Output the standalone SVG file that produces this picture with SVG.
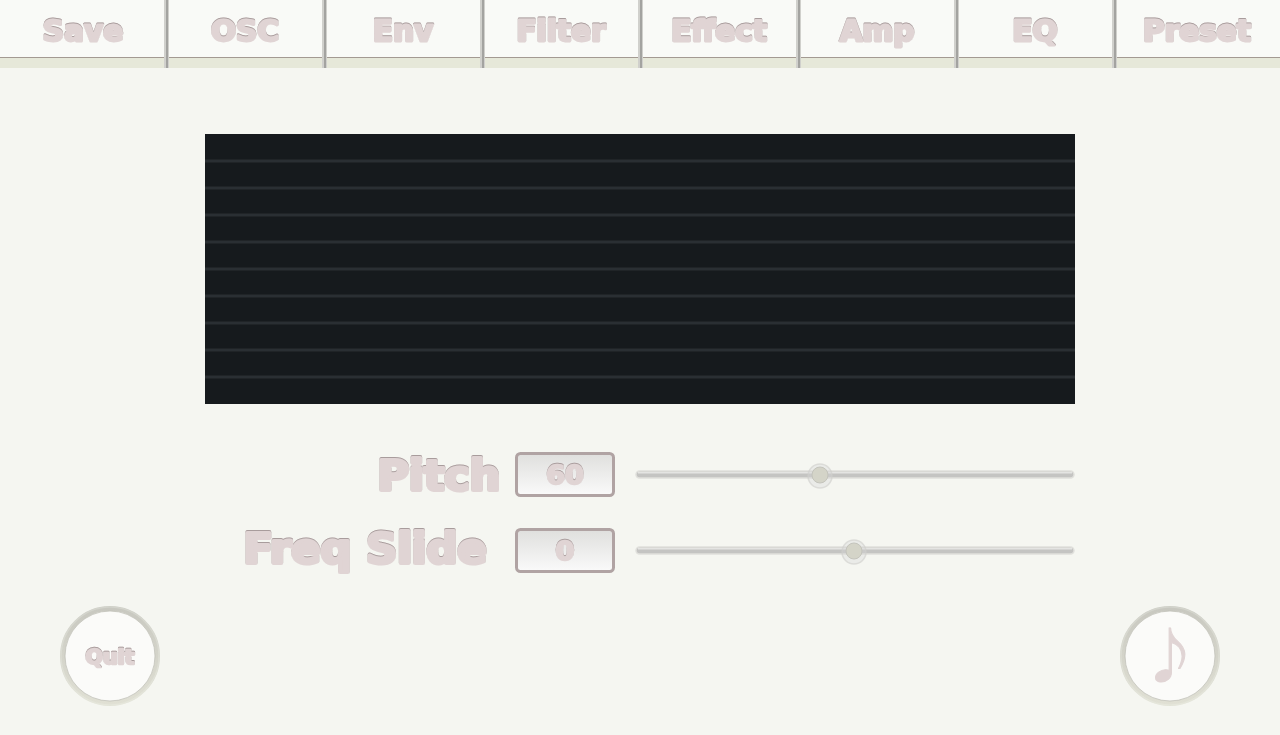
<svg xmlns="http://www.w3.org/2000/svg" width="1280" height="735" viewBox="0 0 1280 735">
<style>
text{font-family:"DejaVu Sans",sans-serif;font-weight:700;fill:#e0d4d4;stroke:#e0d4d4;stroke-linejoin:round;text-anchor:middle;filter:url(#emb)}
.tab{font-size:29.500px;stroke-width:2.800px}
.lab{font-size:43px;stroke-width:4px}
.val{font-size:27px;stroke-width:2.500px}
.sep{fill:#a3a3a0}
.sepl{fill:#d0d0cc}
.box{fill:url(#boxg);stroke:#b0a3a3;stroke-width:3}
.trk{fill:#c4c4c2;stroke:#e0e0dc;stroke-width:1.500}
.trkl{fill:#e4e4e2}
.grid{stroke:#2a2f33;stroke-width:3}
.ring{fill:#fbfbf9;stroke:url(#ringg);stroke-width:5}
.rim{fill:none;stroke:#c0c0b8;stroke-width:0.800}
.glow{fill:none;stroke:#f5f6f1;stroke-width:1.500;stroke-opacity:.25}
.knob{fill:#d4d4c8;stroke:#c4c4bc;stroke-width:1}
.halo{fill:#d8d8d6;fill-opacity:.35;stroke:#cfcfcc;stroke-opacity:.6;stroke-width:1.500}
</style>
<defs>
<linearGradient id="boxg" x1="0" y1="0" x2="0" y2="1"><stop offset="0" stop-color="#dfdfdd"/><stop offset="1" stop-color="#fafafa"/></linearGradient>
<linearGradient id="ringg" x1="0" y1="0" x2="0" y2="1"><stop offset="0" stop-color="#c8c8c0"/><stop offset="1" stop-color="#e0e0d4"/></linearGradient>
<filter id="emb" x="-10%" y="-20%" width="120%" height="140%">
<feOffset in="SourceAlpha" dy="1" result="o"/>
<feComposite in="SourceAlpha" in2="o" operator="out" result="edge"/>
<feFlood flood-color="#9c9090" flood-opacity=".85"/><feComposite in2="edge" operator="in" result="dark"/>
<feMerge><feMergeNode in="SourceGraphic"/><feMergeNode in="dark"/></feMerge>
</filter>
</defs>
<rect width="1280" height="735" fill="#f5f6f1"/>
<g id="tabbar">
<rect width="1280" height="57" fill="#f9faf7"/>
<rect y="57" width="1280" height="1" fill="#a39a92"/>
<rect y="58" width="1280" height="10" fill="#e6e8d9"/>
</g>
<g id="separators">
<rect class="sepl" x="164" width="5" height="68"/><rect class="sep" x="166" width="2" height="68"/>
<rect class="sepl" x="322" width="5" height="68"/><rect class="sep" x="324" width="2" height="68"/>
<rect class="sepl" x="480" width="5" height="68"/><rect class="sep" x="482" width="2" height="68"/>
<rect class="sepl" x="638" width="5" height="68"/><rect class="sep" x="640" width="2" height="68"/>
<rect class="sepl" x="796" width="5" height="68"/><rect class="sep" x="798" width="2" height="68"/>
<rect class="sepl" x="954" width="5" height="68"/><rect class="sep" x="956" width="2" height="68"/>
<rect class="sepl" x="1112" width="5" height="68"/><rect class="sep" x="1114" width="2" height="68"/>
</g>
<g id="tab-save"><text class="tab" x="83" y="41">Save</text></g>
<g id="tab-osc"><text class="tab" x="245" y="41">OSC</text></g>
<g id="tab-env"><text class="tab" x="403" y="41">Env</text></g>
<g id="tab-filter"><text class="tab" x="561" y="41">Filter</text></g>
<g id="tab-effect"><text class="tab" x="719" y="41">Effect</text></g>
<g id="tab-amp"><text class="tab" x="877" y="41">Amp</text></g>
<g id="tab-eq"><text class="tab" x="1035" y="41">EQ</text></g>
<g id="tab-preset"><text class="tab" x="1197" y="41">Preset</text></g>
<g id="display">
<rect x="205" y="134" width="870" height="270" fill="#161a1d"/>
<path class="grid" d="M205 161H1075M205 188H1075M205 215H1075M205 242H1075M205 269H1075M205 296H1075M205 323H1075M205 350H1075M205 377H1075"/>
</g>
<g id="pitch-label"><text class="lab" x="439" y="490">Pitch</text></g>
<g id="pitch-value"><rect class="box" x="516.500" y="453.500" width="97" height="42" rx="4"/><text class="val" x="565" y="484">60</text></g>
<g id="pitch-slider"><rect class="trk" x="636" y="471" width="438" height="7" rx="3.500"/><rect class="trkl" x="638" y="472" width="434" height="1.500"/><circle class="halo" cx="820" cy="476" r="12"/><circle class="knob" cx="820" cy="475" r="8"/></g>
<g id="freq-label"><text class="lab" x="365" y="563">Freq Slide</text></g>
<g id="freq-value"><rect class="box" x="516.500" y="529.500" width="97" height="42" rx="4"/><text class="val" x="565" y="560">0</text></g>
<g id="freq-slider"><rect class="trk" x="636" y="547" width="438" height="7" rx="3.500"/><rect class="trkl" x="638" y="548" width="434" height="1.500"/><circle class="halo" cx="854" cy="552" r="12"/><circle class="knob" cx="854" cy="551" r="8"/></g>
<g id="quit"><circle class="ring" cx="110" cy="656" r="47.500"/><circle class="rim" cx="110" cy="656" r="45"/><circle class="glow" cx="110" cy="656" r="49"/><text x="110" y="664" style="font-size:20.500px;stroke-width:2.500px">Quit</text></g>
<g id="note"><circle class="ring" cx="1170" cy="656" r="47.500"/><circle class="rim" cx="1170" cy="656" r="45"/><circle class="glow" cx="1170" cy="656" r="49"/><text x="1170" y="677" style="font-family:'Noto Sans CJK JP',sans-serif;font-size:58px;stroke-width:1px;font-weight:400;filter:none">♪</text></g>
</svg>
